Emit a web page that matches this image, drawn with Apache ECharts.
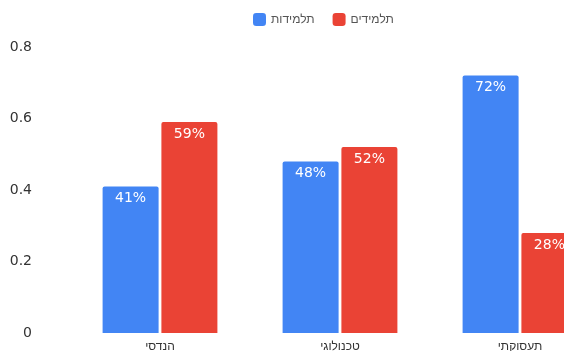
<!DOCTYPE html>
<html><head><meta charset="utf-8">
<script src="https://cdn.jsdelivr.net/npm/echarts@6/dist/echarts.min.js"></script>
<style>html,body{margin:0;padding:0;background:#fff}#c{width:564px;height:351px}</style>
</head><body><div id="c"></div>
<script>
const categories = ['הנדסי', 'טכנולוגי', 'תעסוקתי'];
const seriesNames = ['תלמידות', 'תלמידים'];
const girls = [0.41, 0.48, 0.72];
const boys = [0.59, 0.52, 0.28];
const yTicks = [0, 0.2, 0.4, 0.6, 0.8];

const chart = echarts.init(document.getElementById('c'));
const labelCfg = {
  show: true, position: 'insideTop', color: '#fff', fontSize: 14, distance: 5,
  fontFamily: 'DejaVu Sans',
  formatter: p => Math.round(p.value * 100) + '%'
};
chart.setOption({
  animation: false,
  color: ['#4285f4', '#ea4335'],
  legend: {
    top: 8, left: 248, itemWidth: 13, itemHeight: 13, itemGap: 18,
    icon: 'roundRect',
    textStyle: { color: '#555', fontSize: 12 },
    data: seriesNames
  },
  grid: { left: 70, top: 47, bottom: 18, width: 540, containLabel: false, outerBoundsMode: 'none' },
  xAxis: {
    type: 'category', data: categories,
    axisLine: { show: false }, axisTick: { show: false },
    axisLabel: { color: '#333', fontSize: 12, margin: 8 }
  },
  yAxis: {
    type: 'value', min: yTicks[0], max: yTicks[yTicks.length - 1], interval: 0.2,
    splitLine: { show: false }, axisLine: { show: false }, axisTick: { show: false },
    axisLabel: { color: '#333', fontSize: 14, margin: 38, fontFamily: 'DejaVu Sans' }
  },
  series: [
    { name: seriesNames[0], type: 'bar', data: girls, barWidth: 56, barGap: '5%',
      itemStyle: { borderRadius: [2, 2, 0, 0] }, label: labelCfg },
    { name: seriesNames[1], type: 'bar', data: boys, barWidth: 56,
      itemStyle: { borderRadius: [2, 2, 0, 0] }, label: labelCfg }
  ]
});
</script></body></html>
